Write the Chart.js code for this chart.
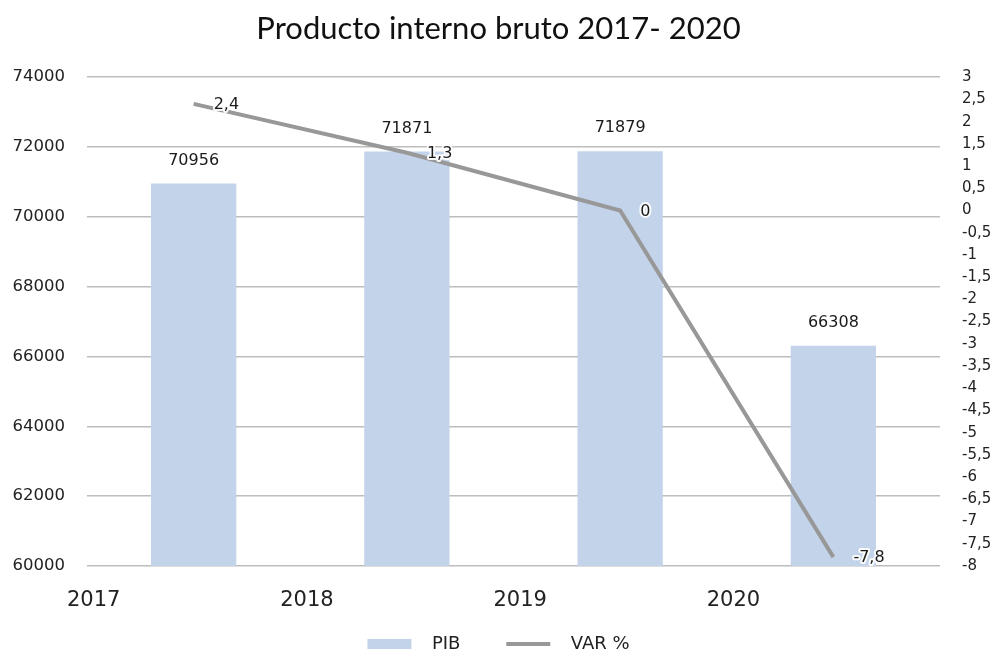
<!DOCTYPE html>
<html lang="es">
<head>
<meta charset="utf-8">
<title>Producto interno bruto 2017- 2020</title>
<script src="https://cdn.jsdelivr.net/npm/chart.js@4"></script>
<style>
    html, body { margin: 0; padding: 0; background: #fff; }
    #wrap { width: 997px; height: 653px; }
</style>
</head>
<body>
<div id="wrap"><canvas id="grafico"></canvas></div>
<script>
// Datos
const anios = ['2017', '2018', '2019', '2020'];
const pib = [70956, 71871, 71879, 66308];
const variacion = [2.4, 1.3, 0, -7.8];

const ejePib = { min: 60000, max: 74000, paso: 2000 };
const ejeVar = { min: -8, max: 3, paso: 0.5 };

const coma = (v) => String(Number(v.toFixed(1))).replace('.', ',');

// Etiquetas de valores sobre barras y linea
const etiquetas = {
    id: 'etiquetas',
    afterDatasetsDraw(chart) {
        const ctx = chart.ctx;
        ctx.save();
        ctx.font = '16px "DejaVu Sans"';
        ctx.fillStyle = '#1a1a1a';
        ctx.textBaseline = 'middle';

        const barras = chart.getDatasetMeta(0);
        ctx.textAlign = 'center';
        barras.data.forEach((el, i) => {
            ctx.fillText(String(pib[i]), el.x, el.y - 23);
        });

        const linea = chart.getDatasetMeta(1);
        ctx.textAlign = 'left';
        ctx.lineJoin = 'round';
        ctx.strokeStyle = 'rgba(255,255,255,0.9)';
        ctx.lineWidth = 4;
        linea.data.forEach((el, i) => {
            const t = coma(variacion[i]);
            ctx.strokeText(t, el.x + 20, el.y + 1);
            ctx.fillText(t, el.x + 20, el.y + 1);
        });
        ctx.restore();
    }
};

const ctx = document.getElementById('grafico').getContext('2d');
new Chart(ctx, {
    type: 'bar',
    data: {
        labels: anios,
        datasets: [
            {
                label: 'PIB',
                data: pib,
                backgroundColor: '#c3d4ea',
                borderWidth: 0,
                barPercentage: 0.4,
                categoryPercentage: 1,
                yAxisID: 'y',
                order: 2
            },
            {
                type: 'line',
                label: 'VAR %',
                data: variacion,
                borderColor: '#989898',
                backgroundColor: '#989898',
                borderWidth: 4,
                pointRadius: 0,
                tension: 0,
                yAxisID: 'y2',
                order: 1
            }
        ]
    },
    options: {
        responsive: true,
        maintainAspectRatio: false,
        animation: false,
        layout: { padding: 0 },
        plugins: {
            title: {
                display: true,
                text: 'Producto interno bruto 2017- 2020',
                color: '#111',
                font: { family: 'Lato', size: 31, weight: 'normal' },
                padding: { top: 10, bottom: 30 }
            },
            legend: {
                position: 'bottom',
                maxHeight: 41,
                labels: {
                    color: '#222',
                    font: { family: 'DejaVu Sans', size: 18 },
                    usePointStyle: true,
                    pointStyleWidth: 44,
                    boxHeight: 10,
                    padding: 23,
                    generateLabels(chart) {
                        const items = Chart.defaults.plugins.legend.labels.generateLabels(chart);
                        items.sort((a, b) => a.datasetIndex - b.datasetIndex);
                        items.forEach((it) => {
                            const ds = chart.data.datasets[it.datasetIndex];
                            if (ds.type === 'line') {
                                it.text = '  ' + it.text;
                                it.pointStyle = 'line';
                                it.strokeStyle = ds.borderColor;
                                it.lineWidth = ds.borderWidth;
                            } else {
                                it.text = '  ' + it.text + '    ';
                                it.pointStyle = 'rect';
                                it.fillStyle = ds.backgroundColor;
                                it.lineWidth = 0;
                            }
                        });
                        return items;
                    }
                }
            },
            tooltip: { enabled: false }
        },
        scales: {
            x: {
                grid: { display: false, drawTicks: false },
                border: { display: false },
                ticks: {
                    color: '#222',
                    font: { family: 'DejaVu Sans', size: 21 },
                    padding: 22,
                    labelOffset: -100,
                    maxRotation: 0
                },
                afterFit(scale) { scale.height = 46; }
            },
            y: {
                position: 'left',
                min: ejePib.min,
                max: ejePib.max,
                grid: { color: '#bdbdbd', lineWidth: 1.5, drawTicks: false },
                border: { display: false },
                ticks: {
                    stepSize: ejePib.paso,
                    color: '#222',
                    font: { family: 'DejaVu Sans', size: 16.5 },
                    padding: 22,
                    callback: (v) => String(v)
                },
                afterFit(scale) { scale.width = 87; }
            },
            y2: {
                position: 'right',
                min: ejeVar.min,
                max: ejeVar.max,
                grid: { display: false, drawTicks: false },
                border: { display: false },
                ticks: {
                    stepSize: ejeVar.paso,
                    autoSkip: false,
                    color: '#222',
                    font: { family: 'DejaVu Sans', size: 15 },
                    padding: 22,
                    callback: (v) => coma(v)
                },
                afterFit(scale) { scale.width = 57; }
            }
        }
    },
    plugins: [etiquetas]
});
</script>
</body>
</html>
